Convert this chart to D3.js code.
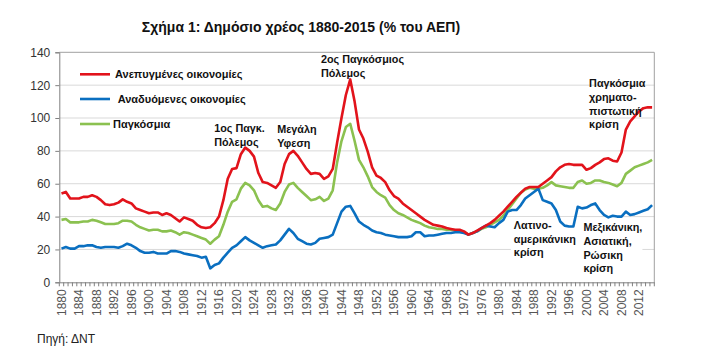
<!DOCTYPE html>
<html><head><meta charset="utf-8">
<script src="https://cdn.jsdelivr.net/npm/d3@7"></script>
<style>
body{margin:0;background:#fff}
svg{display:block}
text{font-family:"Liberation Sans",Arial,sans-serif}
</style>
</head><body>
<svg id="c" width="709" height="363"></svg>
<script>
const years = d3.range(1880, 2016);
const developed = [54,55,51,51,51,52,52,53,52,50,
 47.5,47,47.5,48.5,50.5,49,48,45,44,43,
 42,42.5,42.5,41,42,41,39,37,39.5,38.5,
 37.5,35,33.5,33,33.5,36,40,50,63,69,
 69.5,78,82,80,76.5,66.5,61,60.5,59,57.5,
 61,72,78,80,77,73,69,66,66.5,66,
 63,64.5,69,85,100,114,123.5,110,93,87.5,
 79.5,70,65,63.5,61,56,52.5,51,48,46,
 44,42,40,38,36.5,35,34.5,34,33,32.5,
 32,32,31,29,30,31.5,33,34.5,36,38,
 40.5,43,46,49,52,54.5,57,58,58,58,
 60,62,64,67.5,70,71.5,72,71.5,71.5,71.5,
 68.5,69.5,71.5,73,75,75.5,74,73.5,79,93,
 98,101,104,106,106.5,106.5];
const emerging = [20.5,21.5,20.5,20.5,22,22,22.5,22.5,21.5,21,
 21.5,21.5,21.5,21,22,23.5,22.5,21,19,18,
 18,18.5,17.5,17.5,17.5,19,19,18.5,17.5,17,
 16.5,16,15,15.5,8.5,10.5,11.5,15,18,21,
 22.5,25,27.5,25.5,24,22.5,21,22,22.5,23,
 25.5,29,32.5,30,26.5,25,23.5,23,24,26.5,
 27,27.5,29,36,43,46,46.5,42,37,35,
 33.5,31.5,30.5,30,29,28.5,28,27.5,27.5,27.5,
 28,30.5,30.5,28,28.5,28.5,29,29.5,30,30,
 30.5,30.5,30,29,30,31,33,34.5,34,33.5,
 36,38,43,44,44,47,51,53,55,57,
 50,49,48,44,37,34.5,34,34,46,45,
 45.5,47,48,44,41,39.5,40.5,40,40,43,
 41,41.5,42.5,43.5,44.5,47];
const world = [38,38.5,36.5,36.5,36.5,37,37,38,37.5,36.5,
 35.5,35.5,35.5,36,37.5,37.5,37,35,33.5,32.5,
 31.5,32,32,31,31,31.5,30.5,29,30.5,30,
 29,28,27,26,23.5,26,28,35,43,49,
 50.5,57,60.5,59,56,50,46,46.5,45,44,
 48,55,59.5,60.5,57.5,55,52.5,50,50.5,52,
 49.5,51,56,73,86,94.5,96.5,86,74.5,70,
 64.5,58,55,53,51.5,47,44,42,41,39.5,
 38,37,36,34.5,33.5,33,32.5,32.5,32,32,
 31.5,31.5,30.5,29,30,31,32.5,33.5,35,36.5,
 38,40.5,44,47.5,51,54.5,56.5,57.5,57,57,
 57.5,59,61,59,58.5,58,57.5,57.5,61,62,
 60,60.5,62,62,61,60.5,59.5,58.5,60.5,66,
 68,70,71,72,73,74.5];
const yTicks = [0,20,40,60,80,100,120,140];
const xTickLabels = ["1880","1884","1888","1892","1896","1900","1904","1908","1912","1916","1920","1924","1928","1932","1936","1940","1944","1948","1952","1956","1960","1964","1968","1972","1976","1980","1984","1988","1992","1996","2000","2004","2008","2012"];
const seriesNames = ["Ανεπυγμένες οικονομίες", " Αναδυόμενες οικονομίες", "Παγκόσμια"];
const seriesColors = ["#e2131b", "#0a6fc0", "#8bc150"];
const annotationYears = [1915.4, 1929.8, 1939.8, 2001.1, 1983.9, 1999.8];
const annotationValues = [91.5, 90.9, 133.2, 118.6, 32.4, 31];
const annotationTexts = [
  ["1ος Παγκ.", "Πόλεμος"],
  ["Μεγάλη", "Υφεση"],
  ["2ος Παγκόσμιος", "Πόλεμος"],
  ["Παγκόσμια", "χρηματο-", "πιστωτική", "κρίση"],
  ["Λατινο-", "αμερικάνικη", "κρίση"],
  ["Μεξικάνικη,", "Ασιατική,", "Ρώσικη", "κρίση"]
];
const annotationFilled = [false, false, false, false, true, true];

const svg = d3.select("#c");
const W = 709, H = 363;
const m = {left: 59.3, right: W - 654.3, top: 52.3, bottom: H - 282.3};
const pw = W - m.left - m.right, ph = H - m.top - m.bottom;

const x = d3.scaleBand().domain(years).range([m.left, m.left + pw]).padding(0);
const y = d3.scaleLinear().domain([0, 140]).range([m.top + ph, m.top]);
const cx = d => x(d) + x.bandwidth() / 2;
const xc = yr => m.left + (yr - 1880) * x.bandwidth();

// title
svg.append("text").attr("x", 301).attr("y", 32).attr("text-anchor", "middle")
  .attr("font-size", 14).attr("font-weight", "bold").attr("fill", "#111")
  .text("Σχήμα 1: Δημόσιο χρέος 1880-2015 (% του ΑΕΠ)");

// gridlines
svg.append("g").selectAll("line").data(yTicks.filter(v => v > 0 && v < 140)).join("line")
  .attr("x1", m.left).attr("x2", m.left + pw)
  .attr("y1", d => y(d)).attr("y2", d => y(d))
  .attr("stroke", "#d9d9d9").attr("stroke-width", 1);

// frame top/right
svg.append("line").attr("x1", m.left).attr("x2", m.left + pw).attr("y1", m.top).attr("y2", m.top).attr("stroke", "#a0a0a0");
svg.append("line").attr("x1", m.left + pw).attr("x2", m.left + pw).attr("y1", m.top).attr("y2", m.top + ph).attr("stroke", "#a0a0a0");

// y axis
const ya = svg.append("g").attr("transform", `translate(${m.left},0)`)
  .call(d3.axisLeft(y).tickValues(yTicks).tickSize(4).tickPadding(5));
ya.select(".domain").attr("stroke", "#808080");
ya.selectAll(".tick line").attr("stroke", "#808080");
ya.selectAll("text").attr("font-size", 12).attr("fill", "#333").attr("font-family", "Liberation Sans, Arial, sans-serif");

// x axis
const xa = svg.append("g").attr("transform", `translate(0,${m.top + ph})`)
  .call(d3.axisBottom(x).tickValues([]).tickSizeOuter(0));
xa.select(".domain").attr("stroke", "#808080");
xa.selectAll(".minor").data(d3.range(0, years.length + 1)).join("line")
  .attr("x1", i => m.left + i * x.bandwidth()).attr("x2", i => m.left + i * x.bandwidth())
  .attr("y1", 0).attr("y2", 4).attr("stroke", "#808080");
xa.selectAll(".lab").data(xTickLabels).join("text")
  .attr("transform", d => `translate(${cx(+d)},7) rotate(-90)`)
  .attr("text-anchor", "end").attr("dy", "0.35em")
  .attr("font-size", 12).attr("fill", "#555").text(d => d);

// annotation boxes (white fill)
const ag = svg.append("g");
annotationTexts.forEach((lines, i) => {
  const x0 = xc(annotationYears[i]), y0 = y(annotationValues[i]);
  if (annotationFilled[i]) {
    ag.append("rect").attr("x", x0 - 3).attr("y", y0 - 12)
      .attr("width", i === 4 ? 70 : 62).attr("height", lines.length * 13.6 + 4).attr("fill", "#fff");
  }
});

// lines
const line = d3.line().x((d, i) => cx(years[i])).y(d => y(d));
const seriesData = [developed, emerging, world];
[2, 1, 0].forEach(k => {
  svg.append("path").datum(seriesData[k]).attr("d", line)
    .attr("fill", "none").attr("stroke", seriesColors[k]).attr("stroke-width", 2.6)
    .attr("stroke-linejoin", "round");
});

// annotation texts
annotationTexts.forEach((lines, i) => {
  const x0 = xc(annotationYears[i]), y0 = y(annotationValues[i]);
  const t = svg.append("text").attr("x", x0).attr("y", y0)
    .attr("font-size", 10.8).attr("font-weight", "bold").attr("fill", "#111");
  lines.forEach((s, j) => t.append("tspan").attr("x", x0).attr("dy", j === 0 ? 0 : 13.6).text(s));
});

// legend
const legY = [74.3, 99, 124];
const legTx = [115, 115, 113];
seriesNames.forEach((n, k) => {
  svg.append("line").attr("x1", 80).attr("x2", 110).attr("y1", legY[k]).attr("y2", legY[k])
    .attr("stroke", seriesColors[k]).attr("stroke-width", 2.6);
  svg.append("text").attr("x", legTx[k]).attr("y", legY[k] + 4)
    .attr("font-size", 11).attr("font-weight", "bold").attr("fill", "#111")
    .attr("xml:space", "preserve").style("white-space", "pre").text(n);
});

// source
svg.append("text").attr("x", 37).attr("y", 343).attr("font-size", 12).attr("fill", "#222").text("Πηγή: ΔΝΤ");
</script>
</body></html>
